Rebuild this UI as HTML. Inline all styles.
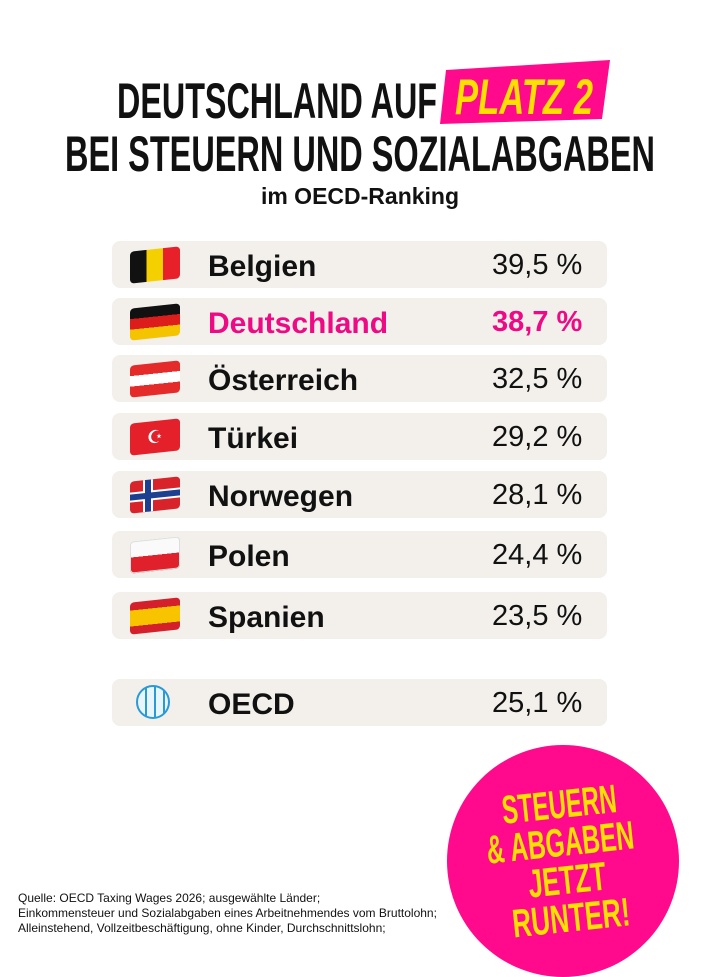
<!DOCTYPE html>
<html><head><meta charset="utf-8"><style>
body{margin:0;width:720px;height:960px;background:#fff;position:relative;overflow:hidden;font-family:"Liberation Sans",sans-serif}
.row{position:absolute;left:112px;width:495px;height:47px;background:#f3f0ec;border-radius:8px}
.name{position:absolute;left:96px;top:9px;font-size:30px;font-weight:bold;color:#111}
.pct{position:absolute;left:380px;top:8px;font-size:29px;color:#111}
.flag{position:absolute;left:18px;top:8px;width:50px;height:32px;border-radius:4px;overflow:hidden;transform:skewY(-6deg)}
.foot{position:absolute;left:18px;top:891px;font-size:12px;line-height:15px;color:#111}
</style></head><body>
<svg width="720" height="240" style="position:absolute;left:0;top:0">
<polygon points="446,70 610,60 602,119 440,124" fill="#ff0a8c"/>
<text x="117" y="118" font-family="Liberation Sans Narrow,Liberation Sans,sans-serif" font-weight="bold" font-size="50" textLength="320" lengthAdjust="spacingAndGlyphs" fill="#111">DEUTSCHLAND AUF</text>
<text x="455" y="114" font-family="Liberation Sans Narrow,Liberation Sans,sans-serif" font-weight="bold" font-style="italic" font-size="50" textLength="138" lengthAdjust="spacingAndGlyphs" fill="#ffe000">PLATZ 2</text>
<text x="65" y="171" font-family="Liberation Sans Narrow,Liberation Sans,sans-serif" font-weight="bold" font-size="50" textLength="590" lengthAdjust="spacingAndGlyphs" fill="#111">BEI STEUERN UND SOZIALABGABEN</text>
<text x="360" y="204" text-anchor="middle" font-family="Liberation Sans,sans-serif" font-weight="bold" font-size="23" fill="#111">im OECD-Ranking</text>
</svg>

<div class="row" style="top:241px"><div class="flag" style="background:linear-gradient(90deg,#111 33%,#f5d000 33% 66%,#e8202a 66%)"></div><div class="name">Belgien</div><div class="pct">39,5 %</div></div>
<div class="row" style="top:298px"><div class="flag" style="background:linear-gradient(#111 33%,#dd1c1c 33% 66%,#f5c400 66%)"></div><div class="name" style="color:#ee0a84">Deutschland</div><div class="pct" style="color:#ee0a84;font-weight:bold">38,7 %</div></div>
<div class="row" style="top:355px"><div class="flag" style="background:linear-gradient(#e52a2a 33%,#fff 33% 66%,#e52a2a 66%)"></div><div class="name">Österreich</div><div class="pct">32,5 %</div></div>
<div class="row" style="top:413px"><div class="flag" style="background:#e4202a;color:#fff;font-size:18px;line-height:32px;text-align:center">☪</div><div class="name">Türkei</div><div class="pct">29,2 %</div></div>
<div class="row" style="top:471px"><div class="flag" style="background:#d8232a"><div style="position:absolute;left:13px;top:0;width:10px;height:32px;background:#fff"></div><div style="position:absolute;left:0;top:11px;width:50px;height:10px;background:#fff"></div><div style="position:absolute;left:15px;top:0;width:6px;height:32px;background:#1c3f8f"></div><div style="position:absolute;left:0;top:13px;width:50px;height:6px;background:#1c3f8f"></div></div><div class="name">Norwegen</div><div class="pct">28,1 %</div></div>
<div class="row" style="top:531px"><div class="flag" style="background:linear-gradient(#fafafa 50%,#e0202a 50%);box-shadow:inset 0 0 0 1px #ddd"></div><div class="name">Polen</div><div class="pct">24,4 %</div></div>
<div class="row" style="top:592px"><div class="flag" style="background:linear-gradient(#d4202a 25%,#f8c400 25% 75%,#d4202a 75%)"></div><div class="name">Spanien</div><div class="pct">23,5 %</div></div>
<div class="row" style="top:679px"><div style="position:absolute;left:24px;top:6px;width:34px;height:34px;border-radius:50%;border:2px solid #2a9ad6;box-sizing:border-box;background:repeating-linear-gradient(90deg,transparent 0 7px,#2a9ad6 7px 9px),#e8f5fc"></div><div class="name">OECD</div><div class="pct">25,1 %</div></div>

<div style="position:absolute;left:447px;top:745px;width:232px;height:232px;border-radius:50%;background:#ff0a8c"></div>
<svg width="720" height="960" style="position:absolute;left:0;top:0">
<g transform="rotate(-6 562 860)" font-family="Liberation Sans Narrow,Liberation Sans,sans-serif" font-weight="bold" font-size="40" fill="#ffe000" text-anchor="middle">
<text x="565" y="818" textLength="115" lengthAdjust="spacingAndGlyphs">STEUERN</text>
<text x="562" y="856" textLength="148" lengthAdjust="spacingAndGlyphs">&amp; ABGABEN</text>
<text x="565" y="894" textLength="78" lengthAdjust="spacingAndGlyphs">JETZT</text>
<text x="565" y="932" textLength="118" lengthAdjust="spacingAndGlyphs">RUNTER!</text>
</g></svg>

<div class="foot">Quelle: OECD Taxing Wages 2026; ausgewählte Länder;<br>Einkommensteuer und Sozialabgaben eines Arbeitnehmendes vom Bruttolohn;<br>Alleinstehend, Vollzeitbeschäftigung, ohne Kinder, Durchschnittslohn;</div>
</body></html>
